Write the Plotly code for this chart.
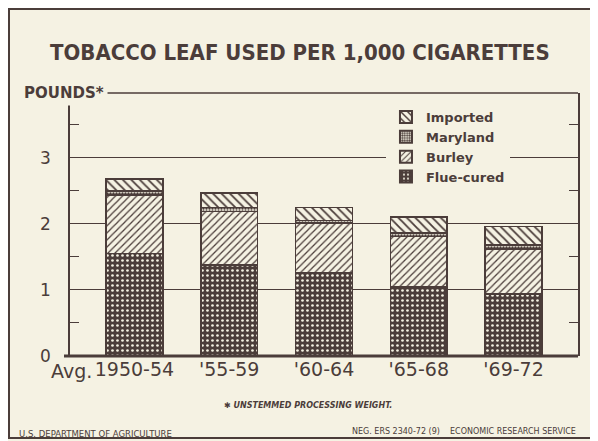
import plotly.graph_objects as go

# pounds of leaf per 1,000 cigarettes
periods = ["1950-54", "'55-59", "'60-64", "'65-68", "'69-72"]
flue_cured = [1.55, 1.38, 1.26, 1.05, 0.94]
burley = [0.89, 0.81, 0.75, 0.76, 0.68]
maryland = [0.06, 0.06, 0.04, 0.05, 0.06]
imported = [0.18, 0.22, 0.20, 0.24, 0.28]

INK = "#4b3d3a"
PAPER = "#f5f2e3"
FONT = "DejaVu Sans, Verdana, sans-serif"
NARROW = "Liberation Sans Narrow, DejaVu Sans Condensed, Roboto Condensed, Arial Narrow, sans-serif"

series = [
    ("Flue-cured", flue_cured, dict(shape=".", bgcolor=INK, fgcolor=PAPER, size=5, solidity=0.22)),
    ("Burley", burley, dict(shape="/", bgcolor=PAPER, fgcolor=INK, size=5, solidity=0.25)),
    ("Maryland", maryland, dict(shape=".", bgcolor=PAPER, fgcolor=INK, size=3, solidity=0.5)),
    ("Imported", imported, dict(shape="\\", bgcolor=PAPER, fgcolor=INK, size=6, solidity=0.3)),
]

fig = go.Figure()
for name, vals, pat in series:
    fig.add_trace(go.Bar(
        x=periods, y=vals, name=name,
        marker=dict(color=PAPER, pattern=dict(fillmode="replace", **pat),
                    line=dict(color=INK, width=1.5)),
        width=0.6,
    ))

# the page body adds an 8px offset, so the plot box is placed 8px up/left
W, H = 508, 263
fig.update_layout(
    width=598, height=441,
    barmode="stack",
    paper_bgcolor=PAPER, plot_bgcolor=PAPER,
    margin=dict(l=62, r=28, t=85, b=93),
    font=dict(family=FONT, color=INK),
    showlegend=True,
    legend=dict(
        traceorder="reversed", x=0.622, y=0.966, xanchor="left", yanchor="top",
        bgcolor=PAPER, font=dict(family=FONT, size=13, color=INK, weight="bold"),
        tracegroupgap=0, itemsizing="constant",
    ),
    title=dict(
        text="<b>TOBACCO LEAF USED PER 1,000 CIGARETTES</b>",
        x=0.488, xanchor="center", y=0.900, yanchor="middle",
        font=dict(family=NARROW, size=22, color=INK),
    ),
    xaxis=dict(
        range=[-0.68, 4.68], showgrid=False, showline=False, ticks="",
        tickfont=dict(family=FONT, size=19, color=INK),
    ),
    yaxis=dict(
        range=[0, 3.98], tickvals=[0, 1, 2, 3], showgrid=True,
        gridcolor=INK, gridwidth=1, zeroline=False,
        showline=True, linecolor=INK, linewidth=1.5, mirror="ticks",
        ticks="", ticklabelstandoff=14,
        tickfont=dict(family=FONT, size=17, color=INK),
        minor=dict(tickvals=[0.5, 1.5, 2.5, 3.5], ticks="inside", ticklen=9,
                   tickcolor=INK, tickwidth=1.2, showgrid=False),
    ),
)

# plot frame: baseline, top rule, outer border
fig.add_shape(type="line", xref="paper", yref="paper", x0=-6 / W, x1=1, y0=0, y1=0,
              line=dict(color=INK, width=3))
fig.add_shape(type="line", xref="paper", yref="paper", x0=0, x1=1, y0=1, y1=1,
              line=dict(color=INK, width=1.5))
fig.add_shape(type="rect", xref="paper", yref="paper",
              x0=-61 / W, x1=1 + 18 / W, y0=-82 / H, y1=1 + 84 / H,
              line=dict(color=INK, width=2), layer="below")

fig.add_annotation(text="<b>POUNDS*</b>", xref="paper", yref="paper",
                   x=38 / W, y=1, xanchor="right", yanchor="middle", showarrow=False,
                   bgcolor=PAPER, borderpad=3, font=dict(family=FONT, size=15, color=INK))
fig.add_annotation(text="Avg.", xref="x", yref="paper", x=periods[0], y=0,
                   xshift=-40, yshift=-15, xanchor="right", yanchor="middle", showarrow=False,
                   font=dict(family=FONT, size=19, color=INK))
fig.add_annotation(text="<b><i>✱ UNSTEMMED PROCESSING WEIGHT.</i></b>", xref="paper", yref="paper",
                   x=238 / W, y=-49 / H, yanchor="middle", showarrow=False,
                   font=dict(family=FONT, size=8, color=INK))
fig.add_annotation(text="U.S. DEPARTMENT OF AGRICULTURE", xref="paper", yref="paper",
                   x=-53 / W, y=-78 / H, xanchor="left", yanchor="middle", showarrow=False,
                   font=dict(family=FONT, size=8.5, color=INK))
fig.add_annotation(text="NEG. ERS 2340-72 (9)    ECONOMIC RESEARCH SERVICE", xref="paper", yref="paper",
                   x=1, y=-75 / H, xanchor="right", yanchor="middle", showarrow=False,
                   font=dict(family=FONT, size=8, color=INK))

fig.write_html("out.html")
